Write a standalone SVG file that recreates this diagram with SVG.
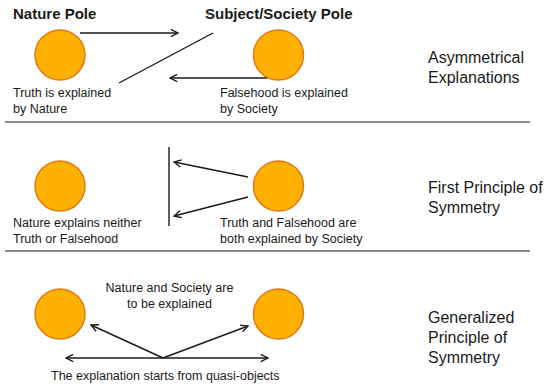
<svg xmlns="http://www.w3.org/2000/svg" width="544" height="387" viewBox="0 0 544 387">
<style>
.pole{fill:#FFB000;stroke:#E27A12;stroke-width:1.5}
.t{font-family:"Liberation Sans",Arial,sans-serif;font-size:12.5px;fill:#1a1a1a}
.h{font-family:"Liberation Sans",Arial,sans-serif;font-size:15px;font-weight:bold;fill:#1a1a1a}
.r{font-family:"Liberation Sans",Arial,sans-serif;font-size:16px;fill:#1a1a1a}
.c{stroke:#1a1a1a;stroke-width:1.4;fill:none}
.sep{stroke:#666;stroke-width:1.6}
</style>
<defs>
<marker id="ah" viewBox="0 0 10 10" refX="9" refY="5" markerWidth="9" markerHeight="9" markerUnits="userSpaceOnUse" orient="auto-start-reverse">
<path d="M1,1 L9,5 L1,9" fill="none" stroke="#1a1a1a" stroke-width="1.5"/>
</marker>
</defs>
<rect width="544" height="387" fill="#fff"/>
<g id="headers">
<text class="h" x="13" y="19">Nature Pole</text>
<text class="h" x="205" y="19">Subject/Society Pole</text>
</g>
<g id="row1-nature">
<circle class="pole" cx="60" cy="55" r="25"/>
<text class="t" x="13" y="97">Truth is explained</text>
<text class="t" x="13" y="113">by Nature</text>
</g>
<g id="row1-society">
<circle class="pole" cx="278.5" cy="55" r="25"/>
<text class="t" x="220" y="97">Falsehood is explained</text>
<text class="t" x="220" y="113">by Society</text>
</g>
<g id="row1-label">
<text class="r" x="428" y="63">Asymmetrical</text>
<text class="r" x="428" y="83">Explanations</text>
</g>
<g id="row2-nature">
<circle class="pole" cx="60" cy="186" r="25"/>
<text class="t" x="13" y="227">Nature explains neither</text>
<text class="t" x="13" y="243">Truth or Falsehood</text>
</g>
<g id="row2-society">
<circle class="pole" cx="278.5" cy="186" r="25"/>
<text class="t" x="220" y="227">Truth and Falsehood are</text>
<text class="t" x="220" y="243">both explained by Society</text>
</g>
<g id="row2-label">
<text class="r" x="428" y="193">First Principle of</text>
<text class="r" x="428" y="213">Symmetry</text>
</g>
<g id="row3-nature">
<circle class="pole" cx="60" cy="314" r="25"/>
</g>
<g id="row3-society">
<circle class="pole" cx="278.5" cy="314" r="25"/>
</g>
<g id="row3-texts">
<text class="t" x="169.5" y="292" text-anchor="middle">Nature and Society are</text>
<text class="t" x="169.5" y="308" text-anchor="middle">to be explained</text>
<text class="t" x="51" y="380">The explanation starts from quasi-objects</text>
</g>
<g id="row3-label">
<text class="r" x="428" y="323">Generalized</text>
<text class="r" x="428" y="343">Principle of</text>
<text class="r" x="428" y="363">Symmetry</text>
</g>
<g id="connectors">
<line class="c" x1="80" y1="33" x2="178" y2="33" marker-end="url(#ah)"/>
<line class="c" x1="213" y1="33" x2="119" y2="83"/>
<line class="c" x1="267" y1="78" x2="170" y2="78" marker-end="url(#ah)"/>
<line class="c" x1="169" y1="147" x2="169" y2="226" stroke-width="1.6"/>
<line class="c" x1="248" y1="177" x2="174" y2="162" marker-end="url(#ah)"/>
<line class="c" x1="248" y1="197" x2="174" y2="216" marker-end="url(#ah)"/>
<line class="c" x1="163" y1="358" x2="91" y2="325" marker-end="url(#ah)"/>
<line class="c" x1="163" y1="358" x2="248" y2="326" marker-end="url(#ah)"/>
<line class="c" x1="66" y1="358" x2="268" y2="358" marker-start="url(#ah)" marker-end="url(#ah)"/>
</g>
<g id="separators">
<line class="sep" x1="5" y1="122" x2="530" y2="122"/>
<line class="sep" x1="5" y1="251" x2="530" y2="251"/>
</g>
</svg>
